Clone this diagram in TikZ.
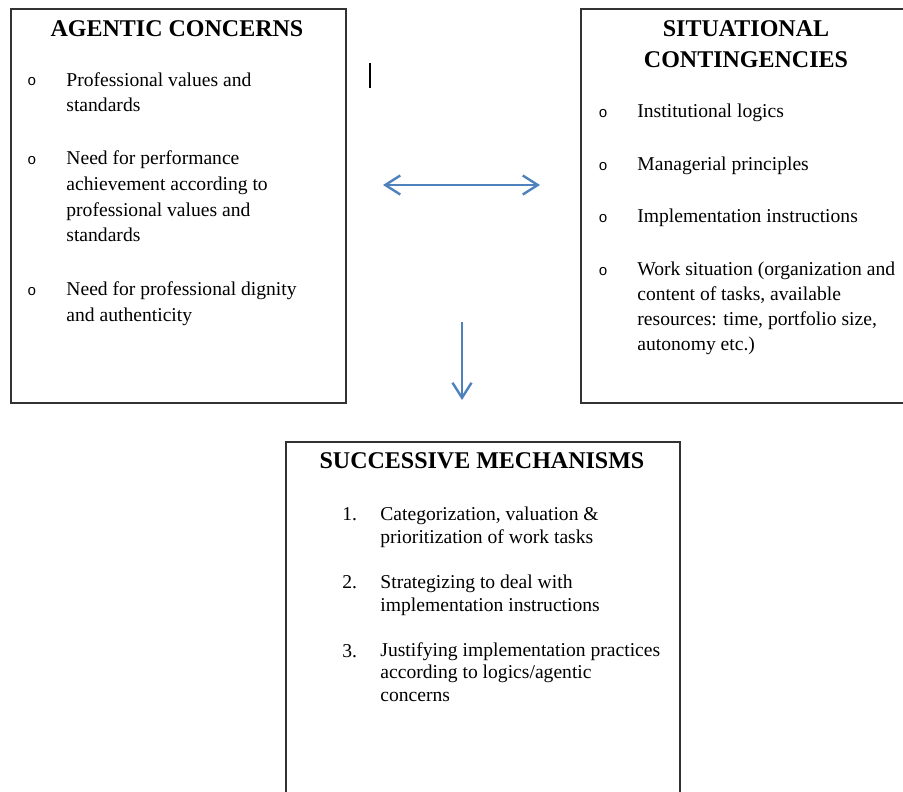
\documentclass[tikz,border=0pt]{standalone}
\usepackage{fontspec}
\setmainfont{Liberation Serif}
\newfontfamily\bulletfont{Liberation Mono}
\usetikzlibrary{arrows.meta}
\definecolor{arrowblue}{RGB}{79,129,189}
\definecolor{boxline}{RGB}{50,50,50}
\begin{document}
\begin{tikzpicture}[x=0.5pt,y=-0.5pt,
  box/.style={draw=boxline, line width=0.8pt, anchor=north west, inner sep=0pt},
  title/.style={font=\fontsize{12}{15.5}\selectfont\bfseries, anchor=base, align=center, inner sep=0pt},
  itemL/.style={font=\fontsize{9.8}{12.85}\selectfont, anchor=base west, align=left, inner sep=0pt},
  itemR/.style={font=\fontsize{9.8}{12.5}\selectfont, anchor=base west, align=left, inner sep=0pt},
  itemB/.style={font=\fontsize{9.8}{11.2}\selectfont, anchor=base west, align=left, inner sep=0pt},
  bul/.style={font=\bulletfont\fontsize{7.5}{9}\selectfont, anchor=base, inner sep=0pt},
  num/.style={font=\fontsize{9.8}{11.2}\selectfont, anchor=base west, inner sep=0pt},
  link/.style={draw=arrowblue, line width=1.2pt},
  barb/.tip={Straight Barb[length=7.5pt,width=9.5pt,line width=1.2pt]}]
\useasboundingbox (0,0) rectangle (903,791);

% boxes
\node[box, minimum width=167.5pt, minimum height=197pt] (L) at (10,8) {};
\node[box, minimum width=170pt, minimum height=197pt] (R) at (580,8) {};
\node[box, minimum width=197pt, minimum height=190pt] (B) at (285,441) {};

% left box (node anchors sit on the last line's baseline)
\node[title] (Lt) at (177,37) {AGENTIC CONCERNS};
\node[bul] (Lb1) at (32,86) {o};
\node[bul] (Lb2) at (32,165) {o};
\node[bul] (Lb3) at (32,295) {o};
\node[itemL] (Li1) at (66,112) {Professional values and\\standards};
\node[itemL] (Li2) at (66,242) {Need for performance\\achievement according to\\professional values and\\standards};
\node[itemL] (Li3) at (66,321) {Need for professional dignity\\and authenticity};

% right box
\node[title] (Rt) at (746,68) {SITUATIONAL\\CONTINGENCIES};
\node[bul] (Rb1) at (603,118) {o};
\node[bul] (Rb2) at (603,170) {o};
\node[bul] (Rb3) at (603,222) {o};
\node[bul] (Rb4) at (603,275) {o};
\node[itemR] (Ri1) at (637,118) {Institutional logics};
\node[itemR] (Ri2) at (637,170) {Managerial principles};
\node[itemR] (Ri3) at (637,222) {Implementation instructions};
\node[itemR] (Ri4) at (637,350) {Work situation (organization and\\content of tasks, available\\resources: time, portfolio size,\\autonomy etc.)};

% bottom box
\node[title] (Bt) at (482,468) {SUCCESSIVE MECHANISMS};
\node[num] (Bn1) at (342,520) {1.};
\node[num] (Bn2) at (342,588) {2.};
\node[num] (Bn3) at (342,657) {3.};
\node[itemB] (Bi1) at (380,543) {Categorization, valuation \&\\prioritization of work tasks};
\node[itemB] (Bi2) at (380,611) {Strategizing to deal with\\implementation instructions};
\node[itemB] (Bi3) at (380,701) {Justifying implementation practices\\according to logics/agentic\\concerns};

% connectors
\coordinate (hA) at (383,185);
\coordinate (hB) at (540,185);
\coordinate (vA) at (462,322);
\coordinate (vB) at (462,400);
\draw[link, barb-barb] (hA) -- (hB);
\draw[link, -barb] (vA) -- (vB);

% stray mark
\coordinate (mA) at (370,63);
\coordinate (mB) at (370,88);
\draw[line width=0.6pt] (mA) -- (mB);
\end{tikzpicture}
\end{document}
